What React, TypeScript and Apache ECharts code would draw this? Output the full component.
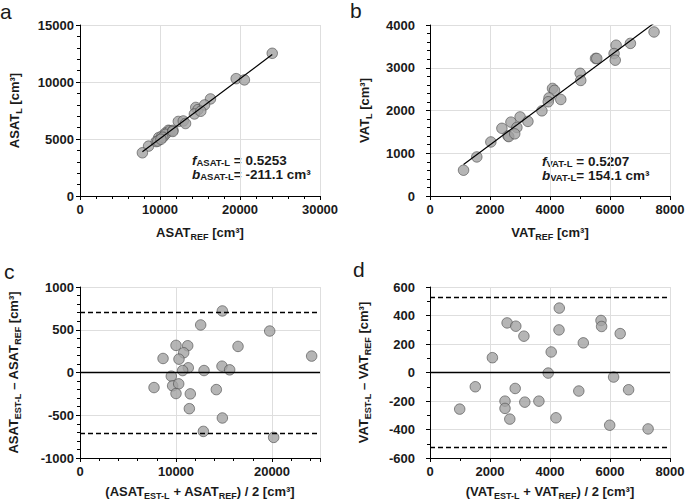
import React, { useEffect, useRef } from "react";
import * as echarts from "echarts";

// ---------- data ----------
// Panel a: ASAT_REF vs ASAT_L (cm³)
const asatRef = [14470, 12290, 19520, 9840, 11060, 16310, 10680, 8570, 10230, 24030, 11250, 10680, 12910, 14750, 15570, 9530, 7800, 9730, 10350, 10120, 11620, 14300, 11600, 15100, 13190, 20550];
const asatL = [7768, 6539, 10295, 5126, 5767, 8515, 5525, 4375, 5247, 12517, 5730, 5410, 6581, 7579, 7989, 4774, 3792, 4816, 5152, 4979, 5761, 7196, 5662, 7437, 6360, 10185];
const asatSlope = 0.5253;
const asatIntercept = -211.1;

// Panel b: VAT_REF vs VAT_L (cm³)
const vatRef = [4084, 2396, 2698, 3003, 4150, 5518, 5559, 6204, 5006, 3968, 2028, 3942, 6136, 1560, 2896, 5025, 6680, 2600, 3264, 3730, 1118, 2626, 2824, 4359, 6175, 7468];
const vatL = [2516, 1583, 1728, 1850, 2471, 3217, 3217, 3527, 2869, 2295, 1264, 2205, 3332, 914, 1604, 2703, 3570, 1404, 1745, 1992, 603, 1390, 1454, 2258, 3177, 3837];
const vatSlope = 0.5207;
const vatIntercept = 154.1;

// Panel c: Bland-Altman ASAT (mean, difference)
const asatMean = [14830, 12570, 19760, 10000, 11220, 16460, 10800, 8650, 10310, 24130, 11280, 10690, 12920, 14790, 15590, 9510, 7710, 9650, 10280, 10000, 11490, 14200, 11390, 14830, 12850, 20170];
const asatDiff = [720, 556, 485, 317, 313, 305, 231, 164, 156, 192, 55, 23, 23, 74, 31, -43, -176, -156, -133, -246, -250, -200, -423, -532, -689, -759];
const asatLines = [709, 0, -707];

// Panel d: Bland-Altman VAT (mean, difference)
const vatMean = [4310, 2570, 2860, 3130, 4300, 5700, 5720, 6340, 5110, 4040, 2080, 3940, 6120, 1510, 2840, 4960, 6620, 2500, 3160, 3630, 990, 2500, 2660, 4200, 5990, 7270];
const vatDiff = [452, 348, 325, 255, 299, 365, 323, 273, 208, 144, 104, -4, -32, -100, -112, -130, -121, -201, -208, -201, -257, -252, -327, -318, -370, -396];
const vatLines = [526, 0, -524];

// ---------- styling ----------
const FONT = "'Liberation Sans', Arial, Helvetica, sans-serif";
const TXT = "#1a1a1a";

const rich = {
  b: { fontSize: 13, fontWeight: "bold", fontFamily: FONT, color: TXT, lineHeight: 18 },
  fi: { fontSize: 13, fontWeight: "bold", fontStyle: "italic", fontFamily: FONT, color: TXT, lineHeight: 18 },
  s: { fontSize: 9, fontWeight: "bold", fontFamily: FONT, color: TXT, lineHeight: 9, verticalAlign: "bottom" },
};

const annoRich = {
  b: { ...rich.b, fontSize: 13.5, lineHeight: 14 },
  fi: { ...rich.fi, fontSize: 13.5, lineHeight: 14 },
  s: { ...rich.s, fontSize: 9.5, lineHeight: 8 },
};

const pairs = (xs: number[], ys: number[]) => xs.map((x, i) => [x, ys[i]]);

function fitLine(xs: number[], slope: number, intercept: number) {
  const lo = Math.min(...xs);
  const hi = Math.max(...xs);
  return [
    [lo, slope * lo + intercept],
    [hi, slope * hi + intercept],
  ];
}

function axis(
  gridIndex: number,
  min: number,
  max: number,
  interval: number,
  minorSplit: number,
  labelMargin: number,
  name: string,
  nameGap: number,
  isY: boolean
) {
  return {
    type: "value",
    gridIndex,
    min,
    max,
    interval,
    name,
    nameLocation: "middle",
    nameGap,
    nameRotate: isY ? 90 : 0,
    nameTextStyle: { rich, fontFamily: FONT, fontWeight: "bold", fontSize: 13, color: TXT },
    axisLine: { show: true, onZero: false, lineStyle: { color: "#000", width: 1 } },
    axisTick: { show: true, inside: false, length: 4, lineStyle: { color: "#000", width: 1 } },
    minorTick: { show: true, splitNumber: minorSplit, length: 3, lineStyle: { color: "#000", width: 1 } },
    splitLine: { show: true, lineStyle: { color: "#dedede", width: 1 } },
    axisLabel: {
      show: true,
      margin: labelMargin,
      color: TXT,
      fontFamily: FONT,
      fontWeight: "bold",
      fontSize: 13,
      showMaxLabel: max % interval === 0,
      formatter: (v: number) => String(v),
    },
  };
}

const pointStyle = { color: "#a3a3a3", borderColor: "#4a4a4a", borderWidth: 0.8 };

function scatter(xi: number, data: number[][]) {
  return {
    type: "scatter",
    xAxisIndex: xi,
    yAxisIndex: xi,
    data,
    symbolSize: 10.5,
    itemStyle: pointStyle,
    z: 3,
    silent: true,
  };
}

function refLines(xi: number, values: number[]) {
  return {
    type: "line",
    xAxisIndex: xi,
    yAxisIndex: xi,
    data: [],
    z: 2,
    silent: true,
    markLine: {
      silent: true,
      symbol: ["none", "none"],
      label: { show: false },
      data: values.map((v) => ({
        yAxis: v,
        lineStyle: { color: "#000", width: 1.4, type: v === 0 ? "solid" : [5, 3] },
      })),
    },
  };
}

function regression(xi: number, data: number[][]) {
  return {
    type: "line",
    xAxisIndex: xi,
    yAxisIndex: xi,
    data,
    symbol: "none",
    clip: true,
    lineStyle: { color: "#000", width: 1.2 },
    z: 4,
    silent: true,
  };
}

const option = {
  animation: false,
  backgroundColor: "#ffffff",
  grid: [
    { left: 80, top: 25, width: 240, height: 171, outerBoundsMode: "none", containLabel: false },
    { left: 430, top: 25, width: 240, height: 171, outerBoundsMode: "none", containLabel: false },
    { left: 80, top: 287, width: 240, height: 171, outerBoundsMode: "none", containLabel: false },
    { left: 430, top: 287, width: 240, height: 171, outerBoundsMode: "none", containLabel: false },
  ],
  xAxis: [
    axis(0, 0, 30000, 10000, 5, 7, "{b|ASAT}{s|REF}{b| [cm³]}", 27, false),
    axis(1, 0, 8000, 2000, 2, 7, "{b|VAT}{s|REF}{b| [cm³]}", 27, false),
    axis(2, 0, 25000, 10000, 5, 7, "{b|(ASAT}{s|EST-L}{b| + ASAT}{s|REF}{b|) / 2 [cm³]}", 24, false),
    axis(3, 0, 8000, 2000, 2, 7, "{b|(VAT}{s|EST-L}{b| + VAT}{s|REF}{b|) / 2 [cm³]}", 24, false),
  ],
  yAxis: [
    axis(0, 0, 15000, 5000, 5, 6, "{b|ASAT}{s|L}{b| [cm³]}", 57, true),
    axis(1, 0, 4000, 1000, 5, 15, "{b|VAT}{s|L}{b| [cm³]}", 57, true),
    axis(2, -1000, 1000, 500, 5, 6, "{b|ASAT}{s|EST-L}{b| – ASAT}{s|REF}{b| [cm³]}", 58, true),
    axis(3, -600, 600, 200, 2, 15, "{b|VAT}{s|EST-L}{b| – VAT}{s|REF}{b| [cm³]}", 58, true),
  ],
  series: [
    scatter(0, pairs(asatRef, asatL)),
    regression(0, fitLine(asatRef, asatSlope, asatIntercept)),
    scatter(1, pairs(vatRef, vatL)),
    regression(1, fitLine(vatRef, vatSlope, vatIntercept)),
    refLines(2, asatLines),
    scatter(2, pairs(asatMean, asatDiff)),
    refLines(3, vatLines),
    scatter(3, pairs(vatMean, vatDiff)),
  ],
  graphic: [
    { type: "text", left: 0, top: 1, style: { text: "a", fontSize: 21, fontFamily: FONT, fill: TXT } },
    { type: "text", left: 350, top: 0, style: { text: "b", fontSize: 21, fontFamily: FONT, fill: TXT } },
    { type: "text", left: 4, top: 261, style: { text: "c", fontSize: 21, fontFamily: FONT, fill: TXT } },
    { type: "text", left: 353, top: 259, style: { text: "d", fontSize: 21, fontFamily: FONT, fill: TXT } },
    {
      type: "text",
      left: 192,
      top: 153,
      style: {
        text: "{fi|f}{s|ASAT-L}{b| = 0.5253}\n{fi|b}{s|ASAT-L}{b|= -211.1 cm³}",
        rich: annoRich,
        fill: TXT,
      },
    },
    {
      type: "text",
      left: 542,
      top: 154,
      style: {
        text: "{fi|f}{s|VAT-L}{b| = 0.5207}\n{fi|b}{s|VAT-L}{b|= 154.1 cm³}",
        rich: annoRich,
        fill: TXT,
      },
    },
  ],
};

export default function App() {
  const ref = useRef<HTMLDivElement>(null);
  useEffect(() => {
    document.body.style.margin = "0";
    const chart = echarts.init(ref.current as HTMLDivElement, null, { renderer: "svg" });
    chart.setOption(option as any);
    return () => chart.dispose();
  }, []);
  return <div ref={ref} style={{ width: 685, height: 503, background: "#fff" }} />;
}
